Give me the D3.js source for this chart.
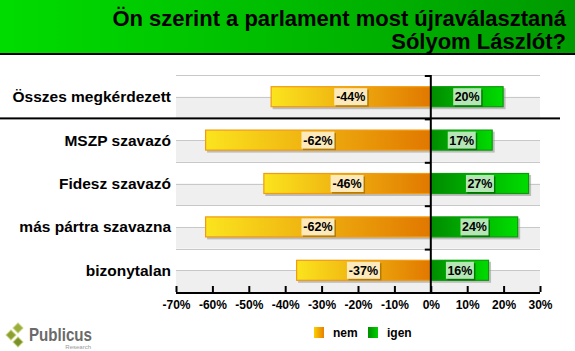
<!DOCTYPE html>
<html><head><meta charset="utf-8">
<script src="https://cdn.jsdelivr.net/npm/d3@7/dist/d3.min.js"></script>
<style>body{margin:0;background:#fff}svg{display:block;font-family:Arial,"Liberation Sans",sans-serif}</style>
</head><body>
<script>
const categories = ["Összes megkérdezett","MSZP szavazó","Fidesz szavazó","más pártra szavazna","bizonytalan"];
const nemValues = [-44,-62,-46,-62,-37];
const igenValues = [20,17,27,24,16];
const tickValues = [-70,-60,-50,-40,-30,-20,-10,0,10,20,30];
const titleLines = ["Ön szerint a parlament most újraválasztaná","Sólyom Lászlót?"];
const legendLabels = ["nem","igen"];

const W=575,H=351;
const svg=d3.select("body").append("svg").attr("width",W).attr("height",H);
const defs=svg.append("defs");
function lg(id,stops){const g=defs.append("linearGradient").attr("id",id).attr("x1","0%").attr("x2","100%").attr("y1","0%").attr("y2","0%");stops.forEach(s=>g.append("stop").attr("offset",s[0]).attr("stop-color",s[1]));}
lg("gTitle",[["0%","#00dc00"],["100%","#009a00"]]);
lg("gNeg",[["0%","#fbe41e"],["100%","#e17800"]]);
lg("gPos",[["0%","#008c00"],["100%","#00dc00"]]);
lg("gLegN",[["0%","#f9d000"],["100%","#e88000"]]);
lg("gLegP",[["0%","#009000"],["100%","#00d000"]]);

// title bar
svg.append("rect").attr("x",0).attr("y",0).attr("width",W).attr("height",54).attr("fill","url(#gTitle)");
svg.append("rect").attr("x",0).attr("y",53).attr("width",W).attr("height",2).attr("fill","#000");
svg.append("g").selectAll("text").data(titleLines).join("text")
 .attr("x",566).attr("y",(d,i)=>26+i*23).attr("text-anchor","end")
 .attr("font-size",22).attr("font-weight","bold").attr("fill","#000").text(d=>d);

const x=d3.scaleLinear().domain([-70,30]).range([176,540]);
const y=d3.scaleBand().domain(categories).range([75,292]);
const bw=y.bandwidth();

// background bands
const bg=svg.append("g");
categories.forEach(c=>{
  const t=y(c);
  bg.append("rect").attr("x",x(-70)).attr("y",t+bw/2).attr("width",x(30)-x(-70)).attr("height",bw/2).attr("fill","#efefef");
  [t, t+bw/2].forEach(yy=>bg.append("line").attr("x1",x(-70)).attr("x2",x(30)).attr("y1",Math.round(yy)+0.5).attr("y2",Math.round(yy)+0.5).attr("stroke","#c8c8c8"));
});

// bars
const barH=21;
const bars=svg.append("g");
function drawBar(v,c,neg){
  const x0=Math.min(x(0),x(v)), x1=Math.max(x(0),x(v));
  const cy=y(c)+bw/2;
  bars.append("rect").attr("x",x0+2).attr("y",cy-barH/2+2).attr("width",x1-x0).attr("height",barH).attr("fill","#999").attr("opacity",0.6);
  bars.append("rect").attr("x",x0+0.5).attr("y",cy-barH/2+0.5).attr("width",x1-x0-1).attr("height",barH-1)
    .attr("fill",neg?"url(#gNeg)":"url(#gPos)").attr("stroke",neg?"#f29a10":"#0a9a0a").attr("stroke-width",1.2);
  const mx=(x0+x1)/2;
  const label=v+"%";
  const lw=neg?33:28, lh=17;
  bars.append("rect").attr("x",mx-lw/2+1.5).attr("y",cy-lh/2+1.5).attr("width",lw).attr("height",lh).attr("fill",neg?"#9a6a00":"#005a00").attr("opacity",0.7);
  bars.append("rect").attr("x",mx-lw/2).attr("y",cy-lh/2).attr("width",lw).attr("height",lh).attr("fill",neg?"#fdeabc":"#b6e6b6");
  bars.append("text").attr("x",mx).attr("y",cy+4.5).attr("text-anchor","middle").attr("font-size",12.5).attr("font-weight","bold").attr("fill","#000").text(label);
}
categories.forEach((c,i)=>{drawBar(nemValues[i],c,true);drawBar(igenValues[i],c,false);});

// category labels
svg.append("g").selectAll("text").data(categories).join("text")
 .attr("x",171).attr("y",d=>y(d)+bw/2+5.5).attr("text-anchor","end")
 .attr("font-size",15.5).attr("font-weight","bold").attr("fill","#000").text(d=>d);

// separator line
svg.append("rect").attr("x",0).attr("y",y(categories[1])-1).attr("width",560).attr("height",2).attr("fill","#000");

// zero line and boundary ticks
svg.append("rect").attr("x",x(0)-1).attr("y",75).attr("width",2).attr("height",218).attr("fill","#000");
categories.forEach(c=>{svg.append("rect").attr("x",x(0)-6).attr("y",y(c)).attr("width",6).attr("height",2).attr("fill","#000");});

// x axis
const ax=svg.append("g").attr("transform","translate(0,292)")
 .call(d3.axisBottom(x).tickValues(tickValues).tickSize(6).tickFormat(d=>d+"%"));
ax.select(".domain").attr("stroke","#000").attr("stroke-width",2).attr("d",`M${x(-70)},1H${x(30)}`);
ax.selectAll(".tick line").attr("stroke","#000").attr("stroke-width",2).attr("y1",0).attr("y2",-6);
ax.selectAll(".tick text").attr("font-size",12).attr("font-weight","bold").attr("fill","#000").attr("y",8).attr("font-family","Arial, 'Liberation Sans', sans-serif");

// legend
const leg=svg.append("g");
[[314,"url(#gLegN)","#f0a000"],[368,"url(#gLegP)","#009000"]].forEach((d,i)=>{
  leg.append("rect").attr("x",d[0]).attr("y",327).attr("width",10).attr("height",11).attr("fill",d[1]);
  leg.append("text").attr("x",d[0]+19).attr("y",337).attr("font-size",12).attr("font-weight","bold").attr("fill","#000").text(legendLabels[i]);
});

// logo
const logo=svg.append("g");
[[18,328,"#9aae3a"],[11,335,"#8aa030"],[18,342,"#7a9028"]].forEach(d=>{
  logo.append("rect").attr("x",-3.5).attr("y",-3.5).attr("width",7).attr("height",7).attr("fill",d[2]).attr("stroke","#c8d080").attr("stroke-width",1)
   .attr("transform",`translate(${d[0]},${d[1]}) rotate(45)`);
});
logo.append("text").attr("x",29).attr("y",341).attr("font-size",19).attr("font-weight","bold").attr("fill","#6a6a6a")
 .attr("textLength",63).attr("lengthAdjust","spacingAndGlyphs").text("Publicus");
logo.append("text").attr("x",91).attr("y",349).attr("text-anchor","end").attr("font-size",6).attr("fill","#999").text("Research");
</script>
</body></html>
